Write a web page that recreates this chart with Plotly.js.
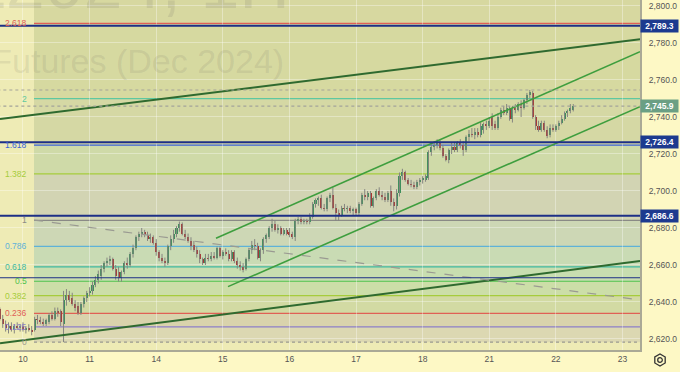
<!DOCTYPE html>
<html><head><meta charset="utf-8">
<script src="https://cdn.plot.ly/plotly-3.0.1.min.js"></script>
<style>html,body{margin:0;padding:0;background:#FDF8C5;}#chart{width:680px;height:372px;}</style>
</head><body><div id="chart"></div>
<script>
// ---- categories / ticks ----
const dayLabels = ['10','11','14','15','16','17','18','21','22','23'];
const firstDayIndex = 8;   // bar index where day "10" begins
const barsPerDay = 23;     // hourly bars per trading day

// ---- hourly OHLC (GCZ2024, Oct 2024) ----
const open = [
2636,2631,2628,2626,2627,2625,2627,2626,2627,2625,
2626,2625,2625,2631,2630,2629,2628,2629,2633,2631,
2635,2635,2628,2641,2644,2642,2639,2638,2634,2639,
2642,2645,2646,2649,2652,2654,2658,2661,2662,2663,
2658,2656,2653,2656,2661,2660,2666,2669,2675,2677,
2678,2676,2674,2675,2672,2667,2664,2662,2661,2670,
2674,2677,2680,2682,2677,2675,2673,2671,2668,2666,
2663,2661,2664,2663,2665,2664,2669,2665,2667,2666,
2663,2667,2662,2660,2659,2658,2663,2668,2671,2670,
2664,2668,2674,2675,2680,2682,2679,2680,2677,2679,
2678,2677,2675,2684,2685,2683,2684,2683,2686,2693,
2695,2696,2691,2690,2696,2698,2691,2688,2687,2691,
2690,2691,2689,2690,2688,2693,2698,2697,2699,2692,
2696,2700,2698,2697,2695,2700,2694,2692,2699,2708,
2710,2706,2704,2703,2702,2705,2706,2706,2707,2721,
2724,2725,2726,2723,2719,2717,2722,2724,2722,2726,
2725,2722,2729,2731,2730,2732,2730,2733,2736,2735,
2740,2736,2734,2740,2744,2742,2745,2739,2745,2744,
2747,2745,2749,2752,2753,2740,2735,2733,2737,2733,
2730,2734,2733,2735,2737,2739,2742,2743,2744];
const high = [
2637,2633,2630,2629,2629,2628,2629,2628,2629,2627,
2628,2627,2632,2633,2632,2631,2631,2634,2635,2637,
2637,2636,2646,2647,2646,2645,2641,2640,2640,2643,
2646,2648,2651,2654,2657,2660,2662,2664,2665,2664,
2660,2659,2657,2662,2664,2667,2671,2676,2678,2680,
2679,2678,2677,2676,2674,2668,2666,2664,2671,2676,
2679,2681,2683.5,2683,2679,2677,2675,2673,2670,2668,
2664,2666,2666,2667,2667,2670,2670,2668,2669,2668,
2668,2668,2664,2662,2661,2664,2669,2673,2674,2672,
2669,2675,2677,2681,2685,2684,2682,2681,2680,2680,
2680,2678,2685,2686,2686,2685,2685,2688,2694,2696,
2697,2698,2693,2697,2699,2702,2693,2690,2692,2693,
2692,2692,2691,2691,2694,2699,2701,2700,2700,2697,
2701,2702,2700,2699,2700,2703,2696,2701,2710,2712,
2711,2707,2706,2705,2706,2707,2708,2709,2722,2726,
2727,2728,2728,2725,2720,2723,2726,2726,2727,2728,
2727,2730,2733,2734,2734,2734,2737,2737,2738,2740,
2742,2738,2742,2745,2746,2747,2746,2746,2747,2748,
2749,2750,2753,2754.6,2754,2741,2738,2738,2738,2735,
2736,2736,2736,2738,2741,2743,2744,2747,2747];
const low = [
2630,2626,2624,2623,2624,2623,2625,2624,2624,2623,
2624,2622,2624,2628,2628,2627,2627,2628,2630,2630,
2632,2627,2618.3,2638,2640,2638,2635,2633,2633,2637,
2640,2643,2644,2648,2650,2652,2656,2659,2660,2657,
2652,2651,2651,2655,2658,2659,2664,2668,2673,2675,
2675,2673,2672,2671,2665,2662,2661,2659,2660,2668,
2672,2675,2678,2676,2674,2672,2668,2667,2664,2661,
2660,2660,2662,2662,2663,2663,2664,2663,2665,2662,
2662,2661,2658,2657,2656,2657,2662,2666,2668,2663,
2662,2666,2672,2674,2678,2678,2677,2676,2676,2676,
2675,2674,2673,2682,2682,2682,2682,2682,2685,2691,
2692,2690,2689,2689,2694,2690,2684,2684,2686,2689,
2688,2688,2687,2687,2687,2692,2695,2695,2691,2691,
2695,2697,2695,2694,2694,2692,2689,2690,2697,2706,
2705,2703,2702,2701,2701,2703,2704,2705,2706,2719,
2722,2723,2722,2718,2716,2715,2720,2721,2721,2723,
2719,2721,2727,2729,2728,2729,2729,2731,2733,2734,
2733,2733,2733,2739,2741,2741,2738,2737,2742,2743,
2740,2744,2747,2750,2739,2733,2732,2732,2732,2728.5,
2729,2732,2732,2733,2736,2738,2740,2742,2743];
const close = [
2631,2628,2626,2627,2625,2627,2626,2627,2625,2626,
2625,2624,2631,2630,2629,2628,2630,2633,2631,2635,
2634,2629,2641,2644,2641,2639,2637,2634,2639,2642,
2645,2646,2649,2652,2655,2658,2661,2662,2663,2658,
2654,2653,2656,2661,2660,2666,2669,2675,2677,2678,
2676,2674,2675,2672,2667,2664,2662,2661,2670,2674,
2677,2680,2682,2677,2675,2673,2670,2668,2666,2663,
2661,2664,2663,2665,2664,2669,2665,2667,2666,2663,
2667,2662,2660,2659,2657.5,2663,2668,2671,2670,2664,
2668,2674,2676,2680,2682,2679,2680,2677,2679,2677,
2676,2675,2684,2685,2683,2684,2683,2686,2693,2695,
2696,2691,2690,2696,2698,2691,2688,2687,2691,2690,
2691,2689,2690,2688,2693,2698,2697,2699,2692,2696,
2700,2698,2697,2695,2699,2694,2692,2699,2708,2710,
2706,2704,2703,2702,2705,2706,2707,2708,2721,2724,
2725,2726,2723,2719,2717,2722,2724,2722,2726,2725,
2722,2729,2731,2730,2732,2730,2735,2736,2735,2738,
2735,2734,2740,2744,2742,2745,2739,2745,2744,2747,
2745,2749,2752,2753.5,2740,2735,2733,2737,2733,2729.5,
2734,2733,2735,2737,2739,2742,2743,2745,2745.9];

// ---- Fibonacci drawing ----
const fibRatios = [0,0.125,0.236,0.382,0.5,0.618,0.786,1,1.382,1.618,2,2.618,3.618];
const fibLabels = ['0','0.125','0.236','0.382','0.5','0.618','0.786','1','1.382','1.618','2','2.618',''];
const fibLineColors = ['#9a9a90','#8c7fc8','#e06055','#a6cc3c','#4cc24c','#3fb8a0','#5fb2d8','#8a8a86','#a6cc3c','#3a62d8','#5ec8a0','#e06055','#a050c0'];
const fibZoneColors = ['#DCD8B2','#D9D3AC','#D2DAA3','#CCDEA8','#C8DEB0','#C9DBB4','#CDD7B5','#D2D4B3','#CFDAA8','#D5D8A4','#D6D9A0','#D7D8A0'];
const fibPrice0 = 2618.3, fibPrice1 = 2684.1;
const fibStartIndex = 11.8;

// ---- key horizontal levels ----
const keyLevels = [2789.3, 2726.4, 2686.6, 2653.1];
const keyLevelWidths = [2, 2, 2, 1];
const keyLevelLabeled = [true, true, true, false];

// ---- trend lines (bar index, price) ----
const trendStartIdx   = [0.06, 0.06, 74.64, 78.79, 11.8];
const trendStartPrice = [2738.9, 2617.7, 2674.4, 2648.3, 2684.3];
const trendEndIdx     = [221.05, 221.05, 221.05, 221.05, 221.05];
const trendEndPrice   = [2782.0, 2662.2, 2775.3, 2745.6, 2641.1];
const trendColors     = ['#2f6a2f','#2f6a2f','#3e9e3e','#3e9e3e','#9a9a92'];
const trendWidths     = [2, 2, 1.6, 1.6, 1.2];
const trendDash       = ['solid','solid','solid','solid','dash'];

// ---- build ----
const idx = open.map((_, i) => i);
const upCol = '#3f8f5c', dnCol = '#a83430';
const wx = [], wy = [];
idx.forEach(i => { wx.push(i, i, null); wy.push(low[i], high[i], null); });
const traces = [];
traces.push({type:'scatter', mode:'lines', x:wx, y:wy, line:{color:'#858580', width:1}, hoverinfo:'skip'});
traces.push({type:'bar', x:idx,
  base: idx.map(i => Math.min(open[i], close[i])),
  y: idx.map(i => Math.max(Math.abs(close[i]-open[i]), 0.5)),
  width: 0.7,
  marker:{color: idx.map(i => close[i] >= open[i] ? upCol : dnCol), line:{width:0}},
  hoverinfo:'skip'});
for (let t = 0; t < trendStartIdx.length; t++) {
  traces.push({type:'scatter', mode:'lines', x:[trendStartIdx[t], trendEndIdx[t]], y:[trendStartPrice[t], trendEndPrice[t]],
    line:{color:trendColors[t], width:trendWidths[t], dash:trendDash[t]}, hoverinfo:'skip'});
}

const fibPrice = r => fibPrice0 + r * (fibPrice1 - fibPrice0);
const shapes = [];
for (let i = 0; i < fibRatios.length - 1; i++) {
  shapes.push({type:'rect', layer:'below', xref:'x', yref:'y', x0:fibStartIndex, x1:240,
    y0:fibPrice(fibRatios[i]), y1:fibPrice(fibRatios[i+1]), fillcolor:fibZoneColors[i], line:{width:0}});
}
for (let i = 0; i < fibRatios.length - 1; i++) {
  shapes.push({type:'line', layer:'below', xref:'x', yref:'y', x0:fibStartIndex, x1:240,
    y0:fibPrice(fibRatios[i]), y1:fibPrice(fibRatios[i]),
    line:{color:fibLineColors[i], width:i===0?1.3:1.2, dash:i===0?'dot':'solid'}});
}
const lastPrice = close[close.length-1];
const sessionHigh = Math.max(...high);
[sessionHigh, lastPrice].forEach(p => shapes.push({type:'line', layer:'above', xref:'x', yref:'y', x0:-5, x1:240, y0:p, y1:p,
  line:{color:'#a3a39a', width:1.2, dash:'dot'}}));
keyLevels.forEach((p, i) => shapes.push({type:'line', layer:'above', xref:'x', yref:'y', x0:-5, x1:240, y0:p, y1:p,
  line:{color:'#1d2f86', width:keyLevelWidths[i]}}));

// gear icon (decoration)
const gx = 660/640, gy = (350-360)/350;
let hex = '';
for (let a = 0; a < 6; a++) {
  const ang = Math.PI/6 + a*Math.PI/3;
  hex += (a===0?'M':'L') + (gx + 6*Math.cos(ang)/640).toFixed(5) + ',' + (gy + 6*Math.sin(ang)/350).toFixed(5);
}
hex += 'Z';
shapes.push({type:'path', xref:'paper', yref:'paper', path:hex, line:{color:'#333', width:1.3}});
shapes.push({type:'circle', xref:'paper', yref:'paper', x0:gx-2.3/640, x1:gx+2.3/640, y0:gy-2.3/350, y1:gy+2.3/350, line:{color:'#333', width:1.3}});

const font = 'Liberation Sans, Arial, sans-serif';
const annotations = [];
// watermark
annotations.push({xref:'paper', yref:'paper', x:292/640, y:(350+16)/350, xanchor:'right', yanchor:'middle', showarrow:false,
  text:'GCZ2024, 1H', font:{family:font, size:70, color:'rgba(110,110,100,0.15)'}});
annotations.push({xref:'paper', yref:'paper', x:286/640, y:(350-61)/350, xanchor:'right', yanchor:'middle', showarrow:false,
  text:'Gold Futures (Dec 2024)', font:{family:font, size:34, color:'rgba(110,110,100,0.15)'}});
// fib labels
for (let i = 0; i < fibLabels.length; i++) {
  if (!fibLabels[i]) continue;
  annotations.push({xref:'paper', yref:'y', x:28.5/640, y:fibPrice(fibRatios[i]), xanchor:'right', yanchor:'middle', showarrow:false,
    text:fibLabels[i], font:{family:font, size:8.5, color:fibLineColors[i]}});
}
// price boxes
const fmt = v => v.toLocaleString('en-US', {minimumFractionDigits:1, maximumFractionDigits:1});
keyLevels.forEach((p, i) => { if (keyLevelLabeled[i]) annotations.push({xref:'paper', yref:'y', x:1, y:p, xanchor:'left', yanchor:'middle', showarrow:false,
  text:fmt(p), bgcolor:'#1d3a8f', width:35, height:10, borderpad:1, font:{family:font, size:8.5, color:'#ffffff', weight:'bold'}}); });
annotations.push({xref:'paper', yref:'y', x:1, y:lastPrice, xanchor:'left', yanchor:'middle', showarrow:false,
  text:fmt(lastPrice), bgcolor:'#6b9f84', width:35, height:10, borderpad:1, font:{family:font, size:8.5, color:'#ffffff', weight:'bold'}});

const layout = {
  width:680, height:372, margin:{l:0, r:40, t:0, b:22},
  paper_bgcolor:'#FDF8C5', plot_bgcolor:'#EEEBB5', showlegend:false, bargap:0,
  xaxis:{range:[0.06, 221.05], tickvals: dayLabels.map((d, i) => firstDayIndex + i*barsPerDay), ticktext: dayLabels,
    showgrid:true, gridcolor:'rgba(255,255,255,0.35)', gridwidth:1, zeroline:false, showline:true, linecolor:'#aaa996', linewidth:2,
    ticks:'', tickfont:{family:font, size:8.5, color:'#555'}, fixedrange:true},
  yaxis:{side:'right', range:[2614.05, 2803.24], tick0:2600, dtick:20, tickformat:',.1f',
    showgrid:true, gridcolor:'rgba(255,255,255,0.35)', gridwidth:1, zeroline:false, showline:true, linecolor:'#aaa996', linewidth:2,
    ticks:'', ticklabelstandoff:5, tickfont:{family:font, size:8.5, color:'#555'}, fixedrange:true},
  shapes: shapes, annotations: annotations
};
Plotly.newPlot('chart', traces, layout, {displayModeBar:false, staticPlot:true});
</script></body></html>
